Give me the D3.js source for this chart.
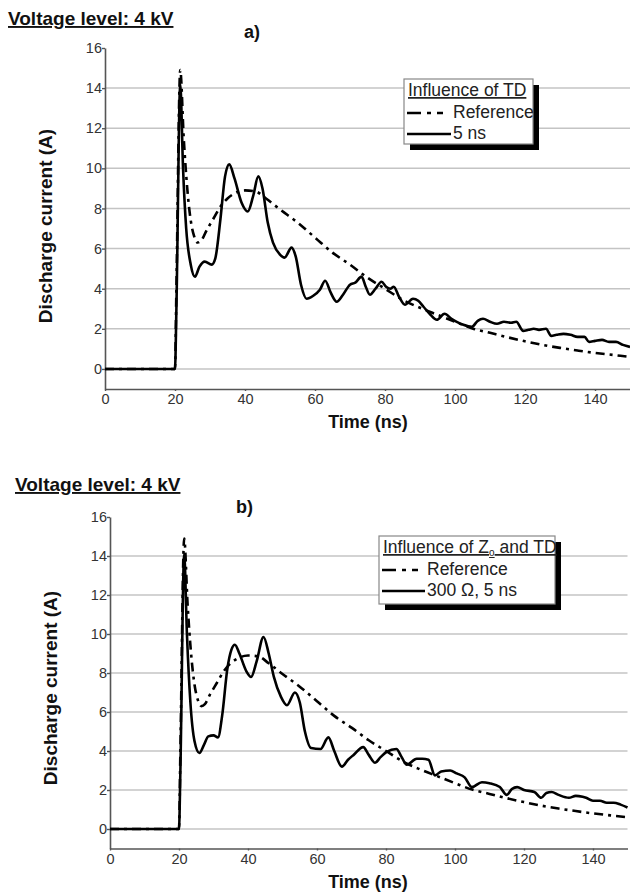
<!DOCTYPE html>
<html>
<head>
<meta charset="utf-8">
<script src="https://cdn.jsdelivr.net/npm/d3@7"></script>
<style>
  body { margin: 0; background: #fff; }
  svg { display: block; font-family: "Liberation Sans", Arial, sans-serif; }
</style>
</head>
<body>
<div id="chart"></div>
<script>
// tick values
const xTicks = [0, 20, 40, 60, 80, 100, 120, 140];
const yTicks = [0, 2, 4, 6, 8, 10, 12, 14, 16];

// reference discharge current (same in both panels)
const refTime = [0, 20, 20.4, 21.5, 22.5, 23.5, 24.5, 25.5, 26.5, 27.5, 29, 31, 33, 35, 37, 40, 43, 46, 50, 55, 60, 65, 70, 75, 80, 85, 90, 95, 100, 105, 110, 115, 120, 125, 130, 135, 140, 145, 150];
const refCurrent = [0, 0, 4, 14.9, 11.5, 9, 7.4, 6.6, 6.3, 6.4, 6.9, 7.5, 8.1, 8.5, 8.75, 8.9, 8.85, 8.5, 7.95, 7.3, 6.55, 5.8, 5.2, 4.55, 4.0, 3.45, 3.05, 2.7, 2.35, 2.02, 1.8, 1.58, 1.38, 1.2, 1.05, 0.92, 0.8, 0.7, 0.6];

// a) TD = 5 ns
const tdTime = [0, 20, 20.4, 21.5, 22.3, 23.2, 24.5, 25.7, 27, 28.5, 30.5, 31.5, 33, 34.3, 35.5, 37, 39, 40.8, 42.3, 43.8, 45, 46.5, 48, 50, 51.3, 53.3, 54.5, 56, 57.6, 59.5, 61.4, 62.9, 64.5, 66.2, 68, 70, 71.5, 73.3, 74.5, 75.7, 77.3, 79, 80.3, 81.5, 82.5, 84, 85.7, 88, 89.5, 91, 93, 94.8, 97, 99, 100.5, 102.4, 104.8, 106.5, 108, 110, 112, 114, 116, 117.5, 119.5, 121, 122.5, 124, 126, 127.5, 129, 131, 133, 135, 137, 138.3, 140, 142, 144, 146, 148, 150];
const tdCurrent = [0, 0, 3, 14.2, 10, 7, 5.2, 4.6, 5.1, 5.35, 5.2, 5.5, 7.5, 9.6, 10.2, 9.5, 8.3, 7.85, 8.6, 9.6, 9.0, 7.3, 6.3, 5.7, 5.55, 6.05, 5.6, 4.2, 3.5, 3.65, 3.95, 4.4, 3.8, 3.35, 3.7, 4.2, 4.3, 4.6, 4.1, 3.7, 4.0, 4.35, 4.1, 4.0, 4.1, 3.6, 3.2, 3.5, 3.4, 3.1, 2.7, 2.45, 2.75, 2.5, 2.35, 2.2, 2.1, 2.4, 2.5, 2.35, 2.25, 2.35, 2.3, 2.35, 1.9, 1.95, 2.0, 1.95, 2.0, 1.65, 1.7, 1.75, 1.7, 1.6, 1.6, 1.35, 1.4, 1.45, 1.35, 1.35, 1.2, 1.1];

// b) Zo = 300 ohm, TD = 5 ns
const zoTime = [0, 20, 20.4, 21.5, 22.3, 23.3, 24.5, 25.9, 27.2, 28.5, 30, 31.3, 32.5, 34, 35.2, 36.2, 37.5, 39.5, 40.9, 42.5, 44.5, 46, 47.5, 49.5, 51.3, 53.6, 55, 56.5, 58.3, 61, 63.3, 65, 67.2, 69, 70.6, 73.4, 75, 76.8, 78.5, 80.2, 83, 84.5, 86, 88.9, 90.5, 92.3, 94.2, 96, 98.6, 100.5, 102.8, 104.9, 107.8, 110, 113, 115, 116.5, 118, 120, 123, 125, 126.5, 128, 130, 133, 135, 137, 138, 140, 142, 144, 146, 148, 150];
const zoCurrent = [0, 0, 3, 14.1, 10, 6.5, 4.5, 3.9, 4.3, 4.75, 4.8, 4.7, 5.8, 8.2, 9.2, 9.45, 9.0, 8.1, 7.8, 8.6, 9.85, 9.0, 7.8, 6.8, 6.35, 7.0, 6.5, 5.0, 4.15, 4.1, 4.7, 4.0, 3.2, 3.55, 3.8, 4.2, 3.8, 3.4, 3.7, 3.95, 4.1, 3.7, 3.3, 3.6, 3.6, 3.55, 2.75, 2.95, 3.0, 2.85, 2.65, 2.15, 2.4, 2.35, 2.15, 1.75, 2.05, 2.15, 2.0, 1.9, 1.6, 1.85, 1.9, 1.75, 1.6, 1.7, 1.65, 1.6, 1.45, 1.45, 1.35, 1.35, 1.25, 1.1];

const svg = d3.select("#chart").append("svg")
  .attr("width", 630)
  .attr("height", 892);

const dashDot = "9,5,3,5";

function drawPanel(p) {
  const x = d3.scaleLinear().domain([0, 150]).range([p.left, p.right]);
  const y = d3.scaleLinear().domain([-1, 16]).range([p.bottom, p.top]);

  const g = svg.append("g");

  // grid
  g.selectAll(".grid")
    .data(yTicks.filter(d => d < 16))
    .join("line")
    .attr("x1", x(0)).attr("x2", x(150))
    .attr("y1", d => y(d)).attr("y2", d => y(d))
    .attr("stroke", "#c4c4c4")
    .attr("stroke-width", 1.5);

  // axes
  const yAxis = g.append("g")
    .attr("transform", `translate(${x(0)},0)`)
    .call(d3.axisLeft(y).tickValues(yTicks).tickSize(3).tickSizeOuter(0).tickPadding(0));
  const xAxis = g.append("g")
    .attr("transform", `translate(0,${y(-1)})`)
    .call(d3.axisBottom(x).tickValues(xTicks).tickSize(2).tickSizeOuter(0).tickPadding(3));

  [yAxis, xAxis].forEach(a => {
    a.select(".domain").attr("stroke", "#555").attr("stroke-width", 1.6);
    a.selectAll(".tick line").attr("stroke", "#555").attr("stroke-width", 1.4);
    a.selectAll(".tick text")
      .attr("fill", "#333")
      .style("font-size", "14.5px")
      .style("font-family", "'Liberation Sans', Arial, sans-serif");
  });

  // clip
  const clipId = "clip-" + p.name;
  svg.append("clipPath").attr("id", clipId)
    .append("rect")
    .attr("x", x(0)).attr("y", y(16) - 5)
    .attr("width", x(150) - x(0) + 2).attr("height", y(-1) - y(16) + 5);

  const line = d3.line()
    .x(d => x(d[0]))
    .y(d => y(d[1]))
    .curve(d3.curveMonotoneX);

  const ref = refTime.map((t, i) => [t, refCurrent[i]]);
  const sim = p.time.map((t, i) => [t, p.current[i]]);

  const lines = g.append("g").attr("clip-path", `url(#${clipId})`);
  lines.append("path")
    .datum(ref)
    .attr("d", line)
    .attr("fill", "none")
    .attr("stroke", "#000")
    .attr("stroke-width", 2.6)
    .attr("stroke-dasharray", dashDot);
  lines.append("path")
    .datum(sim)
    .attr("d", line)
    .attr("fill", "none")
    .attr("stroke", "#000")
    .attr("stroke-width", 2.6)
    .attr("stroke-linejoin", "round");

  // titles
  g.append("text")
    .attr("x", p.titleX).attr("y", p.titleY)
    .style("font-size", "19px")
    .style("font-weight", "bold")
    .style("text-decoration", "underline")
    .attr("fill", "#111")
    .text("Voltage level: 4 kV");

  g.append("text")
    .attr("x", p.tagX).attr("y", p.tagY)
    .style("font-size", "18px")
    .style("font-weight", "bold")
    .attr("fill", "#111")
    .text(p.tag);

  g.append("text")
    .attr("transform", `translate(${p.yLabelX},${p.yLabelY}) rotate(-90)`)
    .attr("text-anchor", "middle")
    .attr("dominant-baseline", "central")
    .style("font-size", "19px")
    .style("font-weight", "bold")
    .attr("fill", "#111")
    .text("Discharge current (A)");

  g.append("text")
    .attr("x", p.xLabelX).attr("y", p.xLabelY)
    .attr("text-anchor", "middle")
    .style("font-size", "18px")
    .style("font-weight", "bold")
    .attr("fill", "#111")
    .text("Time (ns)");

  // legend
  const L = p.legend;
  const lg = g.append("g");
  lg.append("rect")
    .attr("x", L.x + 6).attr("y", L.y + 6)
    .attr("width", L.w).attr("height", L.h)
    .attr("fill", "#000");
  lg.append("rect")
    .attr("x", L.x).attr("y", L.y)
    .attr("width", L.w).attr("height", L.h)
    .attr("fill", "#fff")
    .attr("stroke", "#888")
    .attr("stroke-width", 1.2);

  const title = lg.append("text")
    .attr("x", L.x + 4).attr("y", L.y + 17)
    .style("font-size", "17.5px")
    .style("text-decoration", "underline")
    .attr("fill", "#222");
  L.title.forEach(part => {
    const ts = title.append("tspan").text(part.text);
    if (part.sub) ts.attr("dy", 3).style("font-size", "10px");
    else if (part.after) ts.attr("dy", -3);
  });

  const rows = [
    { label: "Reference", dash: "14,6,4,6,6,200" },
    { label: p.simLabel, dash: null }
  ];
  rows.forEach((r, i) => {
    const yy = L.y + 39 + i * 21;
    lg.append("line")
      .attr("x1", L.x + 3).attr("x2", L.x + 3 + L.sample)
      .attr("y1", yy - 5).attr("y2", yy - 5)
      .attr("stroke", "#000")
      .attr("stroke-width", 2.6)
      .attr("stroke-dasharray", r.dash);
    lg.append("text")
      .attr("x", L.x + 5 + L.sample).attr("y", yy)
      .style("font-size", "17.5px")
      .attr("fill", "#222")
      .text(r.label);
  });
}

drawPanel({
  name: "a", left: 105, right: 630, top: 48, bottom: 389,
  time: tdTime, current: tdCurrent, simLabel: "5 ns",
  titleX: 8, titleY: 25, tag: "a)", tagX: 244, tagY: 38,
  yLabelX: 45, yLabelY: 226, xLabelX: 368, xLabelY: 428,
  legend: { x: 404, y: 79, w: 129, h: 65, sample: 44,
            title: [{ text: "Influence of TD" }] }
});

drawPanel({
  name: "b", left: 110, right: 627.5, top: 517, bottom: 848.5,
  time: zoTime, current: zoCurrent, simLabel: "300 \u03A9, 5 ns",
  titleX: 15, titleY: 491, tag: "b)", tagX: 236, tagY: 513,
  yLabelX: 50, yLabelY: 688, xLabelX: 368, xLabelY: 888,
  legend: { x: 379, y: 536, w: 176, h: 68, sample: 43,
            title: [{ text: "Influence of Z" }, { text: "o", sub: true }, { text: " and TD", after: true }] }
});
</script>
</body>
</html>
